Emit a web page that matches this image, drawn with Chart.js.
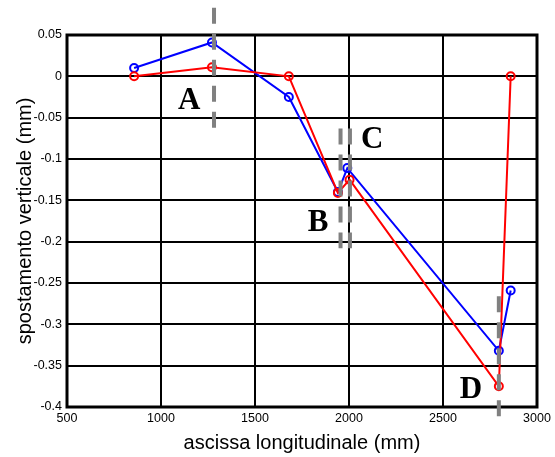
<!DOCTYPE html>
<html>
<head>
<meta charset="utf-8">
<script src="https://cdn.jsdelivr.net/npm/chart.js@4.4.1/dist/chart.umd.min.js"></script>
<style>
  html, body { margin: 0; padding: 0; background: #fff; }
  #wrap { width: 555px; height: 457px; }
</style>
</head>
<body>
<div id="wrap"><canvas id="chart" width="555" height="457"></canvas></div>
<script>
// blue series (x in mm, y in mm)
const blueX = [857, 1271, 1680, 1941, 1991, 2797, 2860];
const blueY = [0.010, 0.041, -0.025, -0.140, -0.111, -0.332, -0.259];

// red series
const redX = [857, 1271, 1680, 1941, 2003, 2797, 2860];
const redY = [0, 0.011, 0, -0.141, -0.125, -0.375, 0];

// grey dashed reference sections
const refX = [1282, 1955, 2005, 2797];
const refTop = [0.083, -0.063, -0.063, -0.266];
const refBottom = [-0.063, -0.208, -0.208, -0.412];

// section labels
const labelText = ['A', 'B', 'C', 'D'];
const labelX = [1150, 1835, 2123, 2648];
const labelY = [-0.030, -0.178, -0.077, -0.379];

// axis ticks
const xTickValues = [500, 1000, 1500, 2000, 2500, 3000];
const yTickValues = [-0.4, -0.35, -0.3, -0.25, -0.2, -0.15, -0.1, -0.05, 0, 0.05];
const yTickLabels = ['-0.4', '-0.35', '-0.3', '-0.25', '-0.2', '-0.15', '-0.1', '-0.05', '0', '0.05'];

const SANS = '"Liberation Sans", Arial, sans-serif';
const SERIF = '"Liberation Serif", "Times New Roman", serif';

const toPoints = (xs, ys) => xs.map((x, i) => ({ x, y: ys[i] }));

const refSets = refX.map((x, i) => ({
  data: [{ x, y: refTop[i] }, { x, y: refBottom[i] }],
  borderColor: '#808080',
  borderWidth: 4,
  borderDash: [16, 10],
  pointRadius: 0,
  clip: false,
  order: 0
}));

// cornice spessa attorno all'area del grafico
const framePlugin = {
  id: 'frame',
  beforeDatasetsDraw(chart) {
    const { ctx, chartArea } = chart;
    ctx.save();
    ctx.strokeStyle = '#000';
    ctx.lineWidth = 3;
    ctx.strokeRect(chartArea.left, chartArea.top,
      chartArea.right - chartArea.left, chartArea.bottom - chartArea.top);
    ctx.restore();
  }
};

// lettere A-D
const letterPlugin = {
  id: 'letters',
  afterDatasetsDraw(chart) {
    const { ctx, scales } = chart;
    ctx.save();
    ctx.fillStyle = '#000';
    ctx.font = 'bold 31px ' + SERIF;
    ctx.textAlign = 'center';
    ctx.textBaseline = 'middle';
    labelText.forEach((t, i) => {
      ctx.fillText(t, scales.x.getPixelForValue(labelX[i]), scales.y.getPixelForValue(labelY[i]));
    });
    ctx.restore();
  }
};

new Chart(document.getElementById('chart'), {
  type: 'line',
  data: {
    datasets: [
      ...refSets,
      {
        data: toPoints(redX, redY),
        borderColor: '#ff0000',
        borderWidth: 2,
        pointRadius: 4,
        pointBorderWidth: 2,
        pointBorderColor: '#ff0000',
        pointBackgroundColor: 'rgba(0,0,0,0)',
        order: 1
      },
      {
        data: toPoints(blueX, blueY),
        borderColor: '#0000ff',
        borderWidth: 2,
        pointRadius: 4,
        pointBorderWidth: 2,
        pointBorderColor: '#0000ff',
        pointBackgroundColor: 'rgba(0,0,0,0)',
        order: 2
      }
    ]
  },
  options: {
    responsive: false,
    animation: false,
    layout: { padding: { top: 35, right: 18, left: 0, bottom: 0 } },
    plugins: { legend: { display: false }, tooltip: { enabled: false } },
    elements: { line: { tension: 0 } },
    scales: {
      x: {
        type: 'linear',
        min: 500,
        max: 3000,
        afterFit: s => { s.height = 50; },
        afterBuildTicks: s => { s.ticks = xTickValues.map(v => ({ value: v })); },
        grid: { color: '#000', lineWidth: 2, drawTicks: false },
        border: { display: false },
        ticks: {
          autoSkip: false, maxRotation: 0, padding: 4, color: '#000',
          font: { family: SANS, size: 12.5 },
          callback: v => String(v)
        },
        title: {
          display: true, text: 'ascissa longitudinale (mm)', color: '#000',
          font: { family: SANS, size: 20 }, padding: { top: 0, bottom: 2 }
        }
      },
      y: {
        type: 'linear',
        min: -0.4,
        max: 0.05,
        afterFit: s => { s.width = 67; },
        afterBuildTicks: s => { s.ticks = yTickValues.map(v => ({ value: v })); },
        grid: { color: '#000', lineWidth: 2, drawTicks: false },
        border: { display: false },
        ticks: {
          autoSkip: false, padding: 5, color: '#000',
          font: { family: SANS, size: 12.5 },
          callback: (v, i) => yTickLabels[i]
        },
        title: {
          display: true, text: 'spostamento verticale (mm)', color: '#000',
          font: { family: SANS, size: 20 }, padding: { top: 13, bottom: 0 }
        }
      }
    }
  },
  plugins: [framePlugin, letterPlugin]
});
</script>
</body>
</html>
